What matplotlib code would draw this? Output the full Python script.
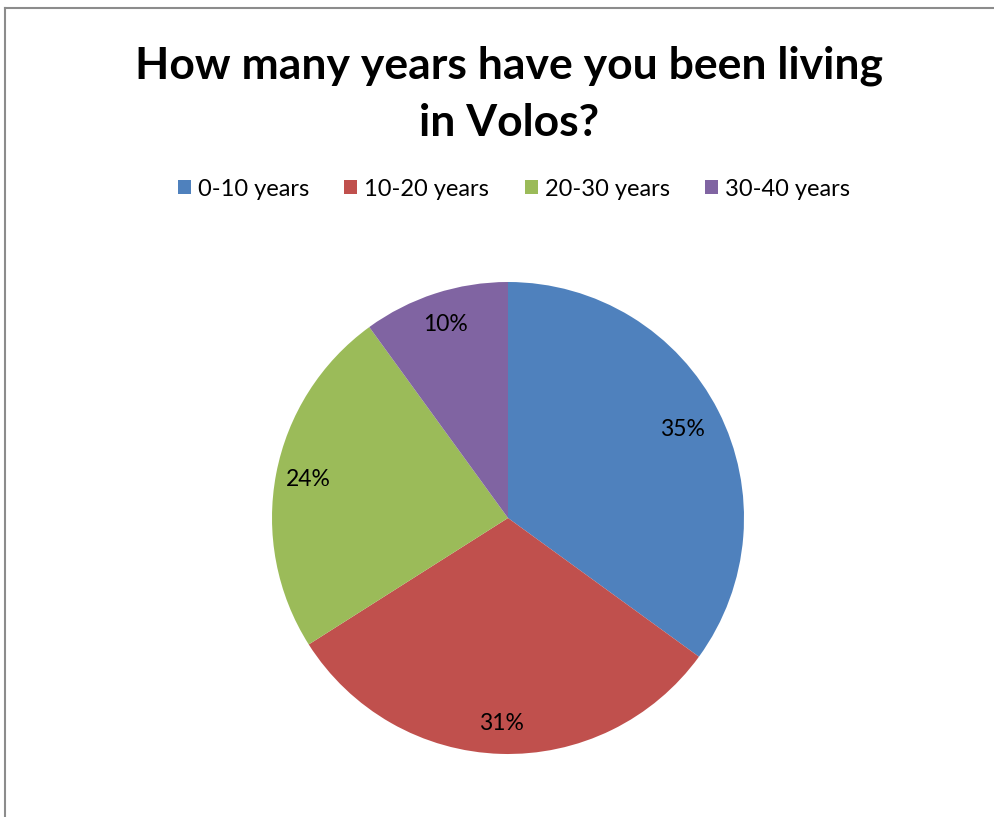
import numpy as np
import matplotlib.pyplot as plt
from matplotlib.lines import Line2D

# odgovori na anketu: koliko godina živite u Volosu
categories = ['0-10 years', '10-20 years', '20-30 years', '30-40 years']
shares = [35, 31, 24, 10]
slice_colors = ['#4F81BD', '#C0504D', '#9BBB59', '#8064A2']
label_dist = [0.83, 0.87, 0.86, 0.86]   # udaljenost postotka od središta

W, H = 995, 817
fig = plt.figure(figsize=(W / 100, H / 100), dpi=100)
plt.rcParams['font.family'] = ['Lato', 'DejaVu Sans']

# okvir grafa - samo lijevi i gornji rub
fig.add_artist(Line2D([5 / W, 5 / W], [0, 1 - 8 / H], color='#8c8c8c', lw=1.5))
fig.add_artist(Line2D([5 / W, 1], [1 - 8 / H, 1 - 8 / H], color='#8c8c8c', lw=1.5))

fig.text(509 / W, 1 - 94 / H, 'How many years have you been living\nin Volos?',
         ha='center', va='center', fontsize=32, fontweight='bold', linespacing=1.5)

# pita: središte (508, 518), polumjer 236 px
cx, cy, r = 508, 518, 236
ax = fig.add_axes([(cx - r) / W, (H - cy - r) / H, 2 * r / W, 2 * r / H])
wedges, _ = ax.pie(shares, colors=slice_colors, startangle=90, counterclock=False,
                   wedgeprops=dict(linewidth=0))
ax.set_xlim(-1, 1)
ax.set_ylim(-1, 1)

for w, v, d in zip(wedges, shares, label_dist):
    ang = np.deg2rad((w.theta1 + w.theta2) / 2)
    ax.text(d * np.cos(ang), d * np.sin(ang), f'{v}%', ha='center', va='center', fontsize=16.5)

handles = [plt.Rectangle((0, 0), 1, 1, facecolor=c) for c in slice_colors]
fig.legend(handles, categories, loc='center', bbox_to_anchor=(514 / W, 1 - 189 / H),
           ncol=4, frameon=False, fontsize=17, handlelength=0.55, handleheight=0.55,
           handletextpad=0.3, columnspacing=1.5)

fig.savefig('out.png', dpi=100)
